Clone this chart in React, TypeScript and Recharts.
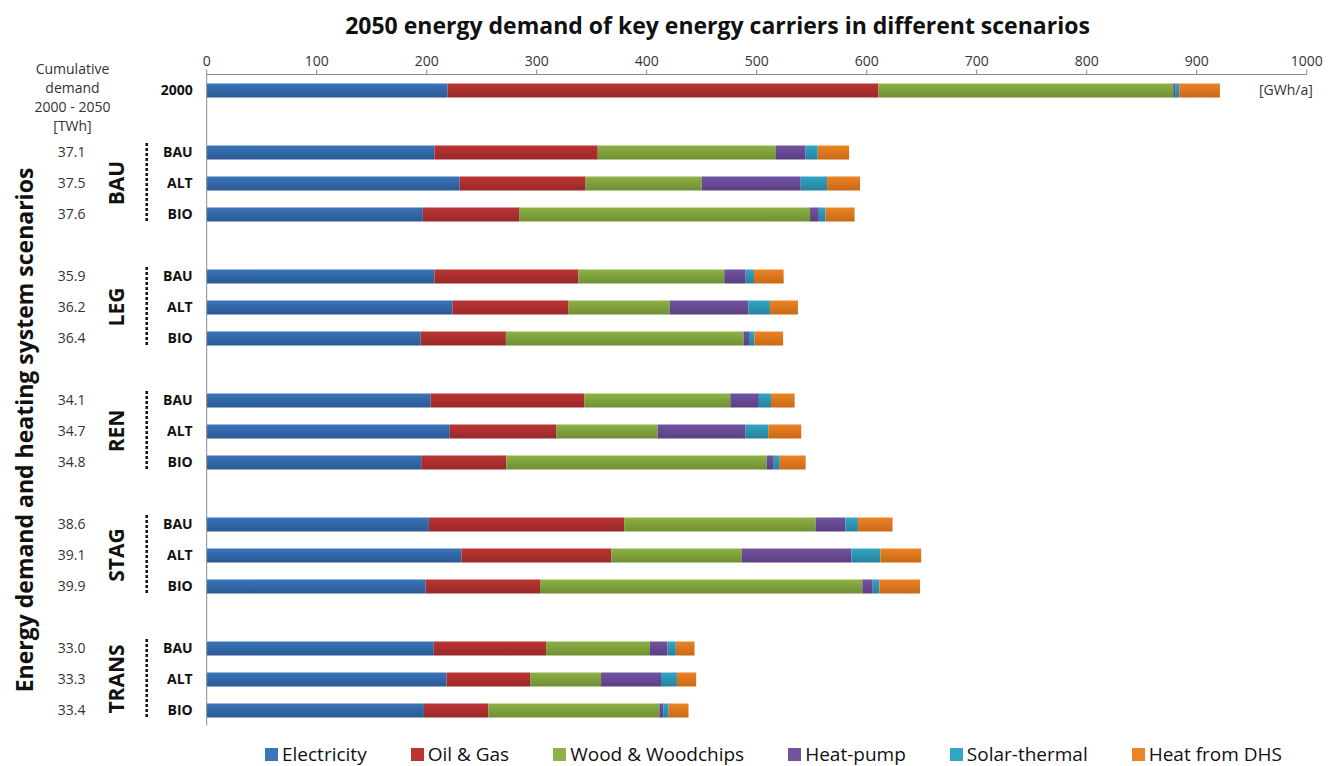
import * as React from "react";
import { Bar, BarChart, XAxis, YAxis } from "recharts";

// rows top to bottom; "" rows are the spacers between scenario groups
const rowLabels = ["2000", "", "BAU", "ALT", "BIO", "", "BAU", "ALT", "BIO", "", "BAU", "ALT", "BIO", "", "BAU", "ALT", "BIO", "", "BAU", "ALT", "BIO"];
const cumulative = ["", "", "37.1", "37.5", "37.6", "", "35.9", "36.2", "36.4", "", "34.1", "34.7", "34.8", "", "38.6", "39.1", "39.9", "", "33.0", "33.3", "33.4"];
const scenarioGroups = ["BAU", "LEG", "REN", "STAG", "TRANS"];

const seriesNames = ["Electricity", "Oil & Gas", "Wood & Woodchips", "Heat-pump", "Solar-thermal", "Heat from DHS"];
const electricity = [219, null, 207, 230, 196.5, null, 207, 223.5, 194.5, null, 203.5, 221, 195, null, 202, 231.5, 199, null, 206.5, 218, 197.5];
const oilGas = [391.7, null, 148.5, 114.5, 88, null, 131, 105.5, 77.5, null, 140, 97, 77.5, null, 177.5, 136.5, 104, null, 102, 76, 58.5];
const wood = [268, null, 162, 105.5, 264, null, 132.5, 92, 216, null, 132.5, 92, 236.5, null, 174, 118.5, 293, null, 94.5, 64.5, 155.5];
const heatPump = [1.7, null, 27, 90, 8, null, 19.5, 71.5, 5, null, 26, 79.5, 6.5, null, 27, 99.5, 9.5, null, 16, 54.5, 3.5];
const solar = [3.7, null, 11, 24, 6, null, 7.5, 19.5, 5, null, 11, 21, 5.5, null, 11.5, 26.5, 6, null, 7.5, 14.5, 5];
const dhs = [37, null, 28.5, 30, 26.5, null, 27, 25.5, 26, null, 21.5, 30, 23.5, null, 31.5, 37, 37, null, 17, 17.5, 18];

const xTicks = [0, 100, 200, 300, 400, 500, 600, 700, 800, 900, 1000];
const cumulativeHeader = ["Cumulative", "demand", "2000 - 2050", "[TWh]"];

const seriesValues = [electricity, oilGas, wood, heatPump, solar, dhs];
const keys = ["el", "oil", "wood", "hp", "sol", "dhs"];
// [top, bottom] of each bar's vertical gradient
const colors = [
  ["#3a74ba", "#295993"],
  ["#bb3432", "#99292a"],
  ["#8db245", "#6f8f33"],
  ["#7153a0", "#5b3f82"],
  ["#33a5c6", "#24819d"],
  ["#ec8425", "#c96816"],
];

const data = rowLabels.map((_, i) => {
  const row: Record<string, string | number | null> = { id: String(i) };
  keys.forEach((k, s) => (row[k] = seriesValues[s][i]));
  return row;
});

const FONT = '"Open Sans", sans-serif';

function RowTick(props: any) {
  const { x, y, payload } = props;
  const i = Number(payload.value);
  const label = rowLabels[i];
  const group = label === "ALT" ? scenarioGroups[(i - 3) / 4] : null;
  return (
    <g fontFamily={FONT}>
      <text x={x} y={y} dy="0.36em" textAnchor="end" fontSize={14} fontWeight={700} fill="#111">
        {label}
      </text>
      <text x={x - 121} y={y} dy="0.36em" textAnchor="middle" fontSize={14} fill="#333">
        {cumulative[i]}
      </text>
      {group && (
        <g>
          <text
            transform={`translate(${x - 76},${y}) rotate(-90)`}
            dy="0.36em"
            textAnchor="middle"
            fontSize={21}
            fontWeight={700}
            fill="#111"
          >
            {group}
          </text>
          <line x1={x - 46} x2={x - 46} y1={y - 40} y2={y + 40} stroke="#111" strokeWidth={2.5} strokeDasharray="3 2" />
        </g>
      )}
    </g>
  );
}

export default function App() {
  return (
    <div style={{ position: "absolute", left: 0, top: 0, width: 1333, height: 766, background: "#fff", fontFamily: FONT }}>
      <BarChart
        width={1333}
        height={766}
        layout="vertical"
        data={data}
        barSize={14}
        margin={{ top: 44.5, right: 26.3, bottom: 40.5, left: 6.7 }}
      >
        <defs>
          {colors.map(([a, b], i) => (
            <linearGradient key={i} id={`g${i}`} x1="0" y1="0" x2="0" y2="1">
              <stop offset="0%" stopColor={a} />
              <stop offset="100%" stopColor={b} />
            </linearGradient>
          ))}
        </defs>
        <XAxis
          type="number"
          orientation="top"
          domain={[0, 1000]}
          ticks={xTicks}
          interval={0}
          height={30}
          tickSize={5}
          tickMargin={4}
          stroke="#8c8c8c"
          tick={{ fill: "#333", fontSize: 14, fontFamily: FONT }}
        />
        <YAxis
          type="category"
          dataKey="id"
          width={200}
          interval={0}
          tickSize={0}
          tickMargin={14}
          tickLine={false}
          stroke="#8c8c8c"
          tick={<RowTick />}
        />
        {keys.map((k, i) => (
          <Bar key={k} dataKey={k} name={seriesNames[i]} stackId="s" fill={`url(#g${i})`} isAnimationActive={false} />
        ))}
      </BarChart>

      <div style={{ position: "absolute", left: 0, width: 1435, top: 9, textAlign: "center", fontSize: 23, fontWeight: 700, color: "#111" }}>
        2050 energy demand of key energy carriers in different scenarios
      </div>

      <div
        style={{
          position: "absolute",
          left: 24,
          top: 430,
          transform: "translate(-50%, -50%) rotate(-90deg)",
          whiteSpace: "nowrap",
          fontSize: 23,
          fontWeight: 700,
          color: "#111",
        }}
      >
        Energy demand and heating system scenarios
      </div>

      <div style={{ position: "absolute", left: 22, width: 101, top: 59, textAlign: "center", fontSize: 14, lineHeight: "19px", color: "#333" }}>
        {cumulativeHeader.map((t) => (
          <div key={t}>{t}</div>
        ))}
      </div>

      <div style={{ position: "absolute", left: 1259, top: 80, fontSize: 14, color: "#333" }}>[GWh/a]</div>

      <div style={{ position: "absolute", left: 265, top: 741, display: "flex", gap: 44, alignItems: "center", fontSize: 19, color: "#111" }}>
        {seriesNames.map((n, i) => (
          <div key={n} style={{ display: "flex", alignItems: "center", gap: 4 }}>
            <span style={{ width: 13, height: 13, background: colors[i][0], display: "inline-block" }} />
            <span>{n}</span>
          </div>
        ))}
      </div>
    </div>
  );
}
